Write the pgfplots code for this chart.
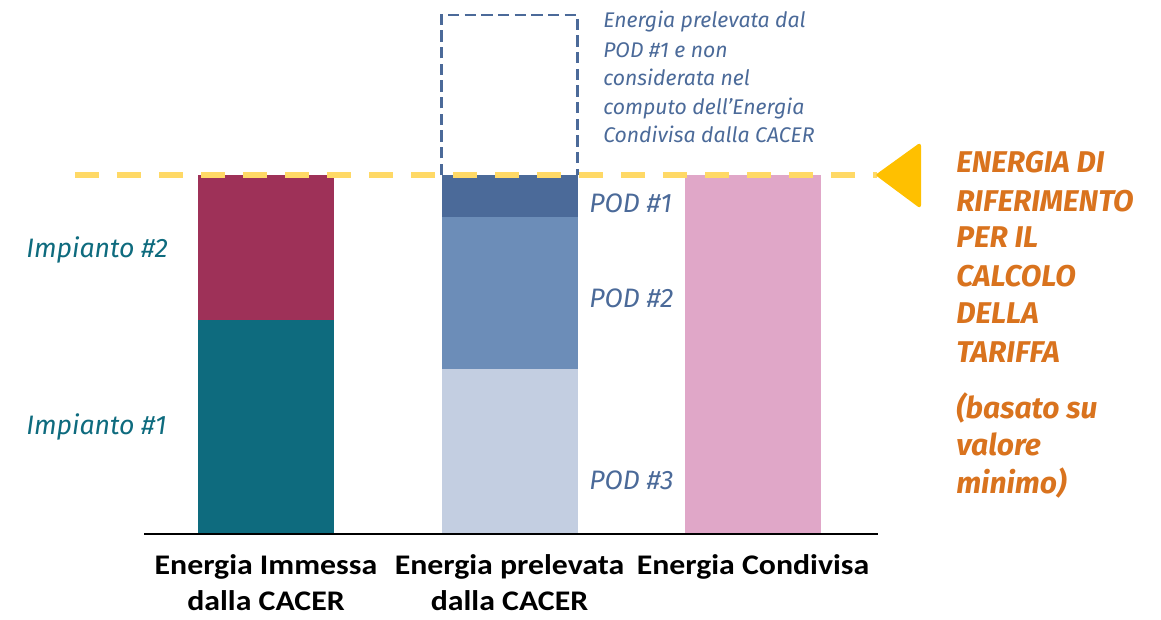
\documentclass[border=0pt]{standalone}
\usepackage{pgfplots}
\pgfplotsset{compat=1.18}
\usepackage{fontspec}
\setmainfont{Fira Sans}
\newfontfamily\calfont{Carlito}[FakeStretch=1.12]
\definecolor{cteal}{HTML}{0E6B7E}
\definecolor{cmaroon}{HTML}{9E3158}
\definecolor{cpodthree}{HTML}{C3CEE1}
\definecolor{cpodtwo}{HTML}{6C8DB8}
\definecolor{cpodone}{HTML}{4B6A99}
\definecolor{cpink}{HTML}{E0A7C8}
\definecolor{cyelline}{HTML}{FFD966}
\definecolor{ctri}{HTML}{FFC000}
\definecolor{corange}{HTML}{D9731E}
\definecolor{cbluetext}{HTML}{4B6A99}
\begin{document}
\begin{tikzpicture}
\pgfplotsset{base/.style={scale only axis, width=870.75pt, height=464.25pt,
  xmin=-1.0924, xmax=3.6756, ymin=-23.68, ymax=148.75, hide axis, clip=false}}
\begin{axis}[base, ybar stacked, bar width=0.5585]
\addplot[fill=cteal, draw=none] coordinates {(0,59.6)(1,0)(2,0)};
\addplot[fill=cmaroon, draw=none] coordinates {(0,40.4)(1,0)(2,0)};
\addplot[fill=cpodthree, draw=none] coordinates {(0,0)(1,46.0)(2,0)};
\addplot[fill=cpodtwo, draw=none] coordinates {(0,0)(1,42.3)(2,0)};
\addplot[fill=cpodone, draw=none] coordinates {(0,0)(1,11.7)(2,0)};
\addplot[fill=cpink, draw=none] coordinates {(0,0)(1,0)(2,100)};
\end{axis}
\begin{axis}[base]
% baseline
\addplot[black, line width=1.3pt, no markers] coordinates {(-0.501,0)(2.513,0)};
% dashed box (energy not considered)
\addplot[cpodone, line width=1.9pt, no markers, dash pattern=on 8.5pt off 4pt]
  coordinates {(0.7207,100)(0.7207,144.6)(1.2793,144.6)(1.2793,100)};
% reference line
\addplot[cyelline, line width=4.5pt, no markers, dash pattern=on 18pt off 13.5pt]
  coordinates {(-0.7844,100)(2.5092,100)};
% triangle marker
\addplot[fill=ctri, draw=ctri, line width=1.5pt, rounded corners=1.5pt, no markers]
  coordinates {(2.5092,100)(2.6858,108.64)(2.6858,91.09)(2.5092,100)};

% left labels
\tikzset{lab/.style={anchor=base west, inner sep=0pt}}
\node[lab, text=cteal, font=\fontsize{20pt}{20pt}\selectfont\itshape] at (axis cs:-0.9856,77.16) {Impianto \#2};
\node[lab, text=cteal, font=\fontsize{20pt}{20pt}\selectfont\itshape] at (axis cs:-0.9856,27.58) {Impianto \#1};

% POD labels
\node[lab, text=cbluetext, font=\fontsize{20pt}{20pt}\selectfont\itshape] at (axis cs:1.3265,89.69) {POD \#1};
\node[lab, text=cbluetext, font=\fontsize{20pt}{20pt}\selectfont\itshape] at (axis cs:1.3265,63.23) {POD \#2};
\node[lab, text=cbluetext, font=\fontsize{20pt}{20pt}\selectfont\itshape] at (axis cs:1.3265,12.26) {POD \#3};

% top annotation
\tikzset{ann/.style={lab, text=cbluetext, font=\fontsize{15.9pt}{15.9pt}\selectfont\itshape}}
\node[ann] at (axis cs:1.3840,140.95) {Energia prelevata dal};
\node[ann] at (axis cs:1.3840,132.87) {POD \#1 e non};
\node[ann] at (axis cs:1.3840,125.07) {considerata nel};
\node[ann] at (axis cs:1.3840,116.99) {computo dell’Energia};
\node[ann] at (axis cs:1.3840,109.19) {Condivisa dalla CACER};

% right orange annotation
\tikzset{ora/.style={lab, text=corange, font=\fontsize{22.5pt}{22.5pt}\selectfont\bfseries\itshape}}
\node[ora] at (axis cs:2.8337,100.56) {ENERGIA DI};
\node[ora] at (axis cs:2.8337,89.97) {RIFERIMENTO};
\node[ora] at (axis cs:2.8337,79.67) {PER IL};
\node[ora] at (axis cs:2.8337,69.08) {CALCOLO};
\node[ora] at (axis cs:2.8337,58.50) {DELLA};
\node[ora] at (axis cs:2.8337,47.91) {TARIFFA};
\node[ora] at (axis cs:2.8337,32.31) {(basato su};
\node[ora] at (axis cs:2.8337,21.73) {valore};
\node[ora] at (axis cs:2.8337,11.42) {minimo)};

% category labels
\tikzset{cat/.style={anchor=base, inner sep=0pt, text=black, font=\fontsize{21.3pt}{21.3pt}\selectfont\calfont\bfseries}}
\node[cat] at (axis cs:0,-11.42) {Energia Immessa};
\node[cat] at (axis cs:0,-21.17) {dalla CACER};
\node[cat] at (axis cs:1,-11.42) {Energia prelevata};
\node[cat] at (axis cs:1,-21.17) {dalla CACER};
\node[cat] at (axis cs:2,-11.42) {Energia Condivisa};
\end{axis}
\pgfresetboundingbox
\path[use as bounding box] (current axis.south west) rectangle (current axis.north east);
\end{tikzpicture}
\end{document}
